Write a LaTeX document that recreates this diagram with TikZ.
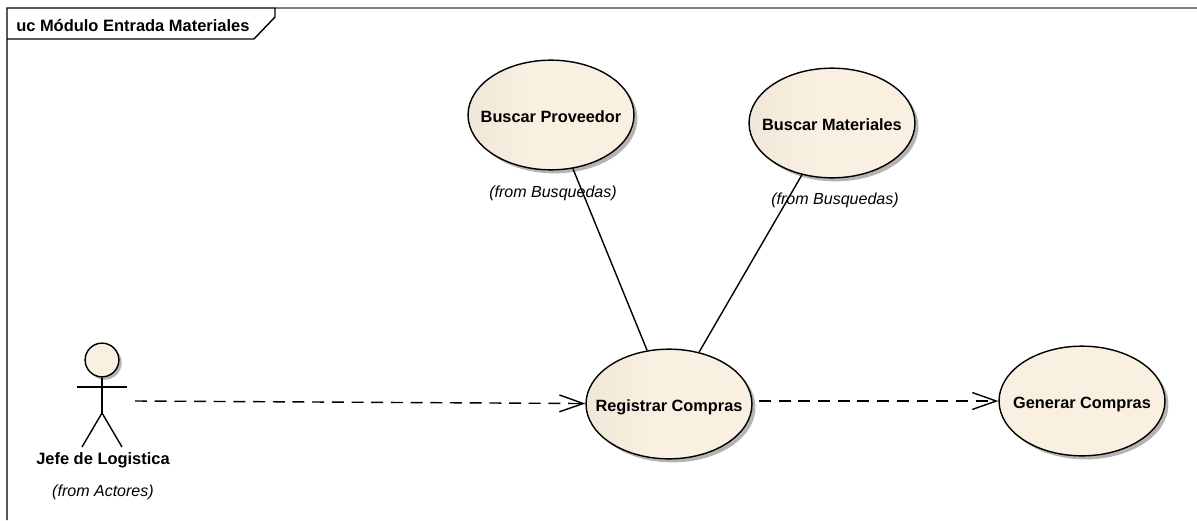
\documentclass[tikz,border=0pt]{standalone}
\usepackage{fontspec}
\setmainfont{Liberation Sans}
\usetikzlibrary{shapes.geometric, arrows.meta, shadows}

\definecolor{ucdark}{HTML}{E8DFD0}
\definecolor{uclight}{HTML}{FAF0E2}
\definecolor{ucshadow}{HTML}{B4B4B4}
\pgfdeclarehorizontalshading{usecaseshade}{100bp}{color(0bp)=(ucdark); color(8bp)=(ucdark); color(45bp)=(uclight); color(100bp)=(uclight)}

\tikzset{
  usecase/.style={ellipse, draw=black, line width=1pt, minimum width=118pt, minimum height=78pt, inner xsep=-12pt, inner ysep=0pt, text height=10.6pt, text depth=0pt, shading=usecaseshade, drop shadow={shadow xshift=2.5pt, shadow yshift=-2.5pt, fill=ucshadow, opacity=1}, font=\fontsize{11.6}{13}\selectfont\bfseries},
  fromlabel/.style={font=\fontsize{11.4}{13}\selectfont\itshape, inner sep=0pt},
  namelabel/.style={font=\fontsize{11.7}{13}\selectfont\bfseries, inner sep=0pt},
  dep/.style={line width=1pt, dash pattern=on 8.5pt off 5.5pt, -{Straight Barb[length=17pt, width=12pt]}},
  assoc/.style={line width=1pt}
}

\begin{document}
\begin{tikzpicture}[x=0.025cm, y=-0.025cm]
    \useasboundingbox (0,0) rectangle (1197,520);

    % Frame
    \draw[line width=1pt, gray] (275,8) -- (1197,8);
    \draw[line width=1pt] (7,520) -- (7,8) -- (275,8) -- (275,17) -- (254,39) -- (7,39);
    \node (title) [namelabel, anchor=west] at (16,26) {uc Módulo Entrada Materiales};

    % Nodes
    \node (proveedor) [usecase] at (551,115) {Buscar Proveedor};
    \node (materiales) [usecase] at (832,123) {Buscar Materiales};
    \node (registrar) [usecase] at (669,404) {Registrar Compras};
    \node (generar) [usecase, shading=axis, left color=uclight, right color=uclight] at (1082,401) {Generar Compras};
    \node (fromproveedor) [fromlabel] at (553,193) {(from Busquedas)};
    \node (frommateriales) [fromlabel] at (835,200) {(from Busquedas)};

    % Actor
    \node (head) [circle, draw=black, line width=1pt, fill=uclight, minimum size=24pt, inner sep=0pt, drop shadow={shadow xshift=2pt, shadow yshift=-2pt, fill=ucshadow, opacity=1}] at (102,360) {};
    \coordinate (armleft) at (77,387);
    \coordinate (armright) at (127,387);
    \coordinate (hip) at (102,413);
    \coordinate (legleft) at (82,447);
    \coordinate (legright) at (122,447);
    \coordinate (actorout) at (135,401);
    \node (jefe) [namelabel] at (103,460) {Jefe de Logistica};
    \node (fromactores) [fromlabel] at (103,492) {(from Actores)};
    \draw[assoc] (head) -- (hip);
    \draw[assoc] (armleft) -- (armright);
    \draw[assoc] (legleft) -- (hip) -- (legright);

    % Arrows
    \draw[assoc] (proveedor) -- (registrar);
    \draw[assoc] (materiales) -- (registrar);
    \draw[dep] (actorout) -- (registrar);
    \draw[dep, shorten <=4.5pt] (registrar.east |- generar) -- (generar);

\end{tikzpicture}
\end{document}
